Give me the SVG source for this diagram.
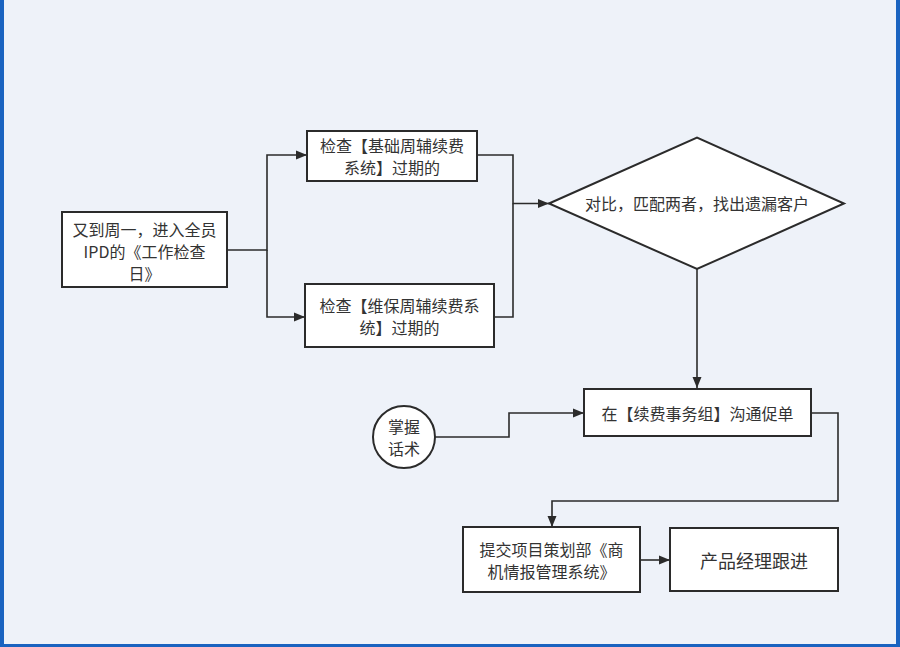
<svg xmlns="http://www.w3.org/2000/svg" width="900" height="647" viewBox="0 0 900 647">
<style>
.box{fill:#ffffff;stroke:#2b2b2b;stroke-width:2}
.t{font-family:"Microsoft YaHei","Noto Sans CJK SC",sans-serif;font-size:16px;fill:#333333;text-anchor:middle;dominant-baseline:central}
.c{fill:none;stroke:#2b2b2b;stroke-width:1.6}
</style>
<defs>
<marker id="arr" markerUnits="userSpaceOnUse" markerWidth="12" markerHeight="10" refX="11" refY="5" orient="auto">
<path d="M0,0.5 L11,5 L0,9.5 z" fill="#2b2b2b"/>
</marker>
</defs>
<rect x="0" y="0" width="900" height="647" fill="#eef2f9"/>
<rect x="0" y="0" width="4" height="647" fill="#1a63c0"/>
<rect x="896" y="0" width="4" height="647" fill="#1a63c0"/>
<rect x="0" y="644" width="900" height="3" fill="#1a63c0"/>

<g id="connectors">
<path class="c" d="M227,250 H267 V155 H307" marker-end="url(#arr)"/>
<path class="c" d="M267,250 V317 H305" marker-end="url(#arr)"/>
<path class="c" d="M477,155 H513 V203.5 H549" marker-end="url(#arr)"/>
<path class="c" d="M494,317 H513 V203.5"/>
<path class="c" d="M697,269 V388" marker-end="url(#arr)"/>
<path class="c" d="M435,437 H509 V413 H584" marker-end="url(#arr)"/>
<path class="c" d="M811,413 H838 V501 H552 V527" marker-end="url(#arr)"/>
<path class="c" d="M640,560 H670" marker-end="url(#arr)"/>
</g>

<g id="start">
<rect class="box" x="62" y="212" width="165" height="75"/>
<text class="t" x="144.5" y="228.5">又到周一，进入全员</text>
<text class="t" x="144.5" y="250.5">IPD的《工作检查</text>
<text class="t" x="144.5" y="272.5">日》</text>
</g>

<g id="check-basic">
<rect class="box" x="307" y="131" width="170" height="50"/>
<text class="t" x="392" y="145">检查【基础周辅续费</text>
<text class="t" x="392" y="167">系统】过期的</text>
</g>

<g id="check-maint">
<rect class="box" x="305" y="284" width="189" height="63"/>
<text class="t" x="399.5" y="305">检查【维保周辅续费系</text>
<text class="t" x="399.5" y="327">统】过期的</text>
</g>

<g id="compare">
<polygon class="box" points="549,203.5 697,137.5 844,203.5 697,269"/>
<text class="t" x="697" y="203">对比，匹配两者，找出遗漏客户</text>
</g>

<g id="renew-group">
<rect class="box" x="584" y="389" width="227" height="47"/>
<text class="t" x="697.5" y="413">在【续费事务组】沟通促单</text>
</g>

<g id="script-skill">
<circle class="box" cx="404" cy="437" r="31"/>
<text class="t" x="404" y="426">掌握</text>
<text class="t" x="404" y="448">话术</text>
</g>

<g id="submit">
<rect class="box" x="463" y="527" width="177" height="65"/>
<text class="t" x="551.5" y="549">提交项目策划部《商</text>
<text class="t" x="551.5" y="571">机情报管理系统》</text>
</g>

<g id="pm-follow">
<rect class="box" x="670" y="528" width="168" height="63"/>
<text class="t" x="754" y="560" style="font-size:18px">产品经理跟进</text>
</g>
</svg>
